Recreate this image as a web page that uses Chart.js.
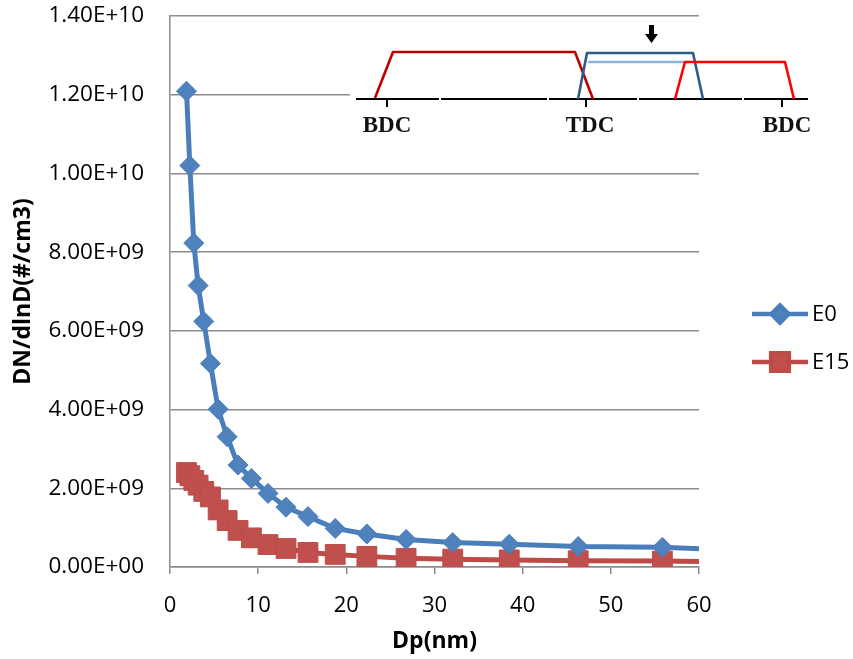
<!DOCTYPE html>
<html>
<head>
<meta charset="utf-8">
<script src="https://cdn.jsdelivr.net/npm/chart.js@4.4.1/dist/chart.umd.min.js"></script>
<style>
  html, body { margin: 0; padding: 0; background: #fff; }
</style>
</head>
<body>
<canvas id="sizeChart" width="853" height="659"></canvas>
<script>
// 1. Size distribution data (Dp in nm, concentration in #/cm3)
const dp = [1.87, 2.25, 2.70, 3.19, 3.83, 4.59, 5.46, 6.48, 7.72, 9.23, 11.12,
            13.16, 15.65, 18.74, 22.33, 26.78, 32.07, 38.48, 46.30, 55.85, 66.80];
const e0 = [1.209e10, 1.020e10, 8.23e9, 7.15e9, 6.24e9, 5.17e9, 4.01e9, 3.31e9, 2.59e9, 2.25e9, 1.87e9,
            1.52e9, 1.28e9, 9.8e8, 8.4e8, 7.0e8, 6.2e8, 5.8e8, 5.2e8, 5.0e8, 4.0e8];
const e15 = [2.40e9, 2.32e9, 2.20e9, 2.08e9, 1.92e9, 1.78e9, 1.45e9, 1.18e9, 9.3e8, 7.4e8, 5.7e8,
             4.7e8, 3.7e8, 3.2e8, 2.7e8, 2.2e8, 2.0e8, 1.8e8, 1.6e8, 1.5e8, 1.3e8];
const seriesNames = ['E0', 'E15'];

// axis ranges
const xMin = 0, xMax = 60, xStep = 10;
const yMin = 0, yMax = 1.4e10, yStep = 2e9;

// inset labels (valve timing sketch)
const crankLabels = ['BDC', 'TDC', 'BDC'];

const GRID = '#8c8c8c';
const FONT = 'Open Sans';

function toPoints(ys) {
    return dp.map((d, i) => ({ x: d, y: ys[i] }));
}

// 1.40E+10 style labels like a spreadsheet
function sciLabel(v) {
    const s = Number(v).toExponential(2).toUpperCase();
    return s.replace(/E([+-])(\d)$/, 'E$10$2');
}

// keep the plot box where we want it (no extra room for label overhang)
function noOverhang(scale) {
    scale.paddingTop = 0;
    scale.paddingBottom = 0;
    scale.paddingLeft = 0;
    scale.paddingRight = 0;
}

// 2. Legend on the right: line + marker + name
const sideLegend = {
    id: 'sideLegend',
    afterDraw(chart) {
        const ctx = chart.ctx;
        const rows = [314, 362];
        chart.data.datasets.forEach((ds, i) => {
            const y = rows[i];
            ctx.save();
            ctx.strokeStyle = ds.borderColor;
            ctx.lineWidth = 4.5;
            ctx.beginPath();
            ctx.moveTo(752, y);
            ctx.lineTo(808, y);
            ctx.stroke();
            ctx.fillStyle = ds.pointBackgroundColor;
            ctx.strokeStyle = ds.pointBorderColor;
            Chart.helpers.drawPoint(ctx, {
                pointStyle: ds.pointStyle,
                radius: ds.pointStyle === 'rect' ? 12.5 : 8.5,
                rotation: 0,
                borderWidth: 1
            }, 780, y);
            ctx.fillStyle = '#000';
            ctx.font = '22px "' + FONT + '"';
            ctx.textBaseline = 'middle';
            ctx.textAlign = 'left';
            ctx.fillText(ds.label, 812, y + 1);
            ctx.restore();
        });
    }
};

// 3. Valve timing sketch in the upper right corner
const timingInset = {
    id: 'timingInset',
    afterDraw(chart) {
        const ctx = chart.ctx;
        ctx.save();
        ctx.fillStyle = '#fff';
        ctx.fillRect(350, 21, 468, 124);

        // crank angle baseline with small breaks
        ctx.strokeStyle = '#000';
        ctx.lineWidth = 2;
        const segs = [[356, 439], [441, 547], [549, 637], [639, 742], [744, 808]];
        segs.forEach(s => {
            ctx.beginPath();
            ctx.moveTo(s[0], 99);
            ctx.lineTo(s[1], 99);
            ctx.stroke();
        });
        const marks = [387, 586, 782];
        marks.forEach(x => {
            ctx.beginPath();
            ctx.moveTo(x, 99);
            ctx.lineTo(x, 107);
            ctx.stroke();
        });

        ctx.lineJoin = 'round';
        ctx.lineWidth = 2.6;
        const trap = (pts, color) => {
            ctx.strokeStyle = color;
            ctx.beginPath();
            ctx.moveTo(pts[0][0], pts[0][1]);
            for (let k = 1; k < pts.length; k++) ctx.lineTo(pts[k][0], pts[k][1]);
            ctx.stroke();
        };
        trap([[375, 98], [393, 52], [575, 52], [593, 99]], '#c00000');
        trap([[588, 62], [687, 62]], '#8fb2dd');
        trap([[578, 99], [587, 53], [693, 53], [703, 99]], '#2e5b8c');
        trap([[675, 99], [685, 62], [785, 62], [794, 99]], '#ff0000');

        // arrow
        ctx.fillStyle = '#000';
        ctx.fillRect(649, 25, 5, 10);
        ctx.beginPath();
        ctx.moveTo(645, 34);
        ctx.lineTo(658, 34);
        ctx.lineTo(651.5, 43);
        ctx.closePath();
        ctx.fill();

        ctx.fillStyle = '#111';
        ctx.font = 'bold 23px "Liberation Serif"';
        ctx.textAlign = 'center';
        ctx.textBaseline = 'middle';
        [387, 590, 787].forEach((x, i) => ctx.fillText(crankLabels[i], x, 126));
        ctx.restore();
    }
};

// 4. Build the chart
const ctx = document.getElementById('sizeChart').getContext('2d');

const sizeChart = new Chart(ctx, {
    type: 'line',
    data: {
        datasets: [{
            label: seriesNames[0],
            data: toPoints(e0),
            borderColor: '#4a7ebb',
            borderWidth: 5,
            pointStyle: 'rectRot',
            pointRadius: 10,
            pointBackgroundColor: '#4f81bd',
            pointBorderColor: '#4a7ebb',
            pointBorderWidth: 1,
            tension: 0,
            fill: false
        }, {
            label: seriesNames[1],
            data: toPoints(e15),
            borderColor: '#be4b48',
            borderWidth: 5,
            pointStyle: 'rect',
            pointRadius: 14,
            pointBackgroundColor: '#c0504d',
            pointBorderColor: '#be4b48',
            pointBorderWidth: 1,
            tension: 0,
            fill: false
        }]
    },
    options: {
        responsive: false,
        animation: false,
        layout: { padding: { top: 16, right: 154, bottom: 0, left: 0 } },
        plugins: {
            legend: { display: false },
            tooltip: { enabled: false }
        },
        scales: {
            x: {
                type: 'linear',
                min: xMin,
                max: xMax,
                ticks: {
                    stepSize: xStep,
                    color: '#000',
                    font: { family: FONT, size: 22 },
                    padding: 19
                },
                grid: {
                    drawOnChartArea: false,
                    tickLength: 7,
                    color: GRID,
                    lineWidth: 1.5
                },
                border: { color: GRID, width: 1.5 },
                title: {
                    display: true,
                    text: 'Dp(nm)',
                    color: '#000',
                    font: { family: FONT, size: 23, weight: 'bold' },
                    padding: { top: 0, bottom: 4 }
                },
                afterFit(scale) {
                    noOverhang(scale);
                    scale.height = 92;
                }
            },
            y: {
                min: yMin,
                max: yMax,
                ticks: {
                    stepSize: yStep,
                    color: '#000',
                    font: { family: FONT, size: 22.5 },
                    padding: 26,
                    callback: v => sciLabel(v)
                },
                grid: {
                    drawTicks: false,
                    color: GRID,
                    lineWidth: 1.5
                },
                border: { color: GRID, width: 1.5 },
                title: {
                    display: true,
                    text: 'DN/dlnD(#/cm3)',
                    color: '#000',
                    font: { family: FONT, size: 23, weight: 'bold' },
                    padding: { top: 10, bottom: 0 }
                },
                afterFit(scale) {
                    noOverhang(scale);
                    scale.width = 170;
                }
            }
        }
    },
    plugins: [sideLegend, timingInset]
});
</script>
</body>
</html>
